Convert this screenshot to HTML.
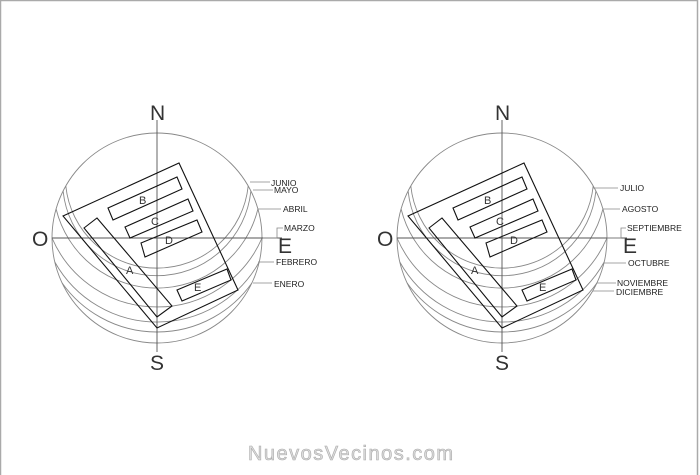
<!DOCTYPE html>
<html><head><meta charset="utf-8"><style>
html,body{margin:0;padding:0;background:#fff}
svg{display:block}
text{font-family:"Liberation Sans",sans-serif}
</style></head><body>
<svg width="700" height="475" viewBox="0 0 700 475" xmlns="http://www.w3.org/2000/svg">
<rect x="0.5" y="0.5" width="697" height="480" fill="none" stroke="#aaa" stroke-width="1.5"/>
<defs>
<g id="base">
  <circle cx="157" cy="238" r="105" fill="none" stroke="#888" stroke-width="0.9"/>
  <g fill="none" stroke="#888" stroke-width="0.9">
    <path d="M65.8,186 A91.7,91.7 0 0 0 248.2,186"/>
    <path d="M63.1,191 A94.4,94.4 0 0 0 250.9,191"/>
    <path d="M56.1,209 A103.9,103.9 0 0 0 257.9,209"/>
    <path d="M52,238 A114.4,114.4 0 0 0 262,238"/>
    <path d="M54.8,262 A117,117 0 0 0 259.2,262"/>
    <path d="M62.1,283 A116.4,116.4 0 0 0 251.9,283"/>
  </g>
  <g stroke="#555" stroke-width="0.9">
    <line x1="157" y1="120" x2="157" y2="352"/>
    <line x1="52" y1="238" x2="282" y2="238"/>
  </g>
  <g fill="none" stroke="#111" stroke-width="1.1">
    <polygon points="63,216 179,163 238,290 157,328"/>
    <polygon points="84,228 97,218 172,306 157,317"/>
    <polygon points="108,208 177,177 182,189 113,220"/>
    <polygon points="125,227 188,199 193,211 130,238"/>
    <polygon points="141,243 197,220 202,232 145,257"/>
    <polygon points="177,290 227,269 231,280 182,301"/>
  </g>
  <g font-size="11" fill="#333">
    <text x="139" y="204">B</text>
    <text x="151" y="225">C</text>
    <text x="165" y="244">D</text>
    <text x="126" y="274">A</text>
    <text x="194" y="291">E</text>
  </g>
  <g font-size="21" fill="#333">
    <text x="150" y="120">N</text>
    <text x="150" y="370">S</text>
    <text x="32" y="246">O</text>
    <text x="278" y="253">E</text>
  </g>
</g>
</defs>
<use href="#base"/>
<use href="#base" transform="translate(345,0)"/>
<g stroke="#888" stroke-width="0.8">
  <line x1="250" y1="182" x2="270" y2="182"/>
  <line x1="253" y1="190" x2="273" y2="190"/>
  <line x1="258" y1="209" x2="281" y2="209"/>
  <polyline points="263,238 277,238 277,228 283,228" fill="none"/>
  <line x1="258" y1="262" x2="274" y2="262"/>
  <line x1="253" y1="283" x2="272" y2="283"/>
  <line x1="593" y1="188" x2="618" y2="188"/>
  <line x1="603" y1="209" x2="620" y2="209"/>
  <polyline points="607,238 621,238 621,228 626,228" fill="none"/>
  <line x1="604" y1="263" x2="626" y2="263"/>
  <line x1="597" y1="283" x2="616" y2="283"/>
  <line x1="593" y1="291" x2="614" y2="291"/>
</g>
<g font-size="8.5" fill="#222">
  <text x="271" y="186">JUNIO</text>
  <text x="274" y="193">MAYO</text>
  <text x="283" y="212">ABRIL</text>
  <text x="284" y="231">MARZO</text>
  <text x="276" y="265">FEBRERO</text>
  <text x="274" y="287">ENERO</text>
  <text x="620" y="191">JULIO</text>
  <text x="622" y="212">AGOSTO</text>
  <text x="627" y="231">SEPTIEMBRE</text>
  <text x="628" y="266">OCTUBRE</text>
  <text x="617" y="286">NOVIEMBRE</text>
  <text x="616" y="295">DICIEMBRE</text>
</g>
<text x="248" y="460" font-size="20" textLength="205" fill="#ddd" stroke="#aaa" stroke-width="0.6">NuevosVecinos.com</text>
</svg>
</body></html>
